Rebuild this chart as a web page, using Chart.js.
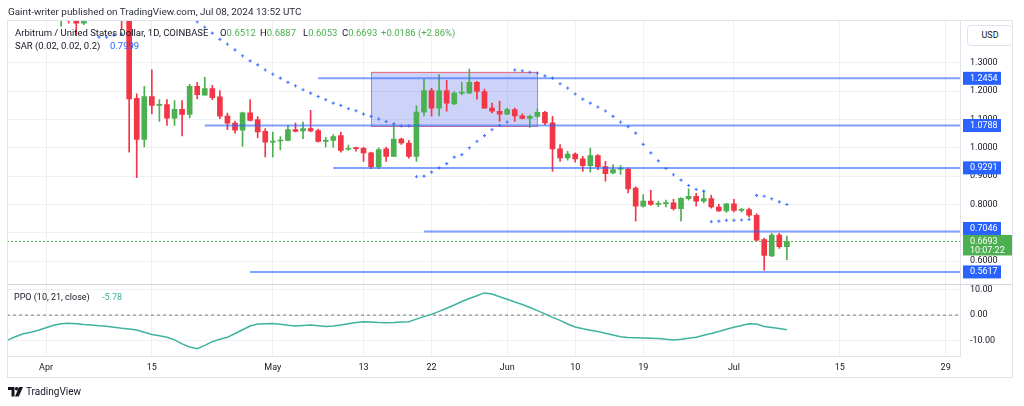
<!DOCTYPE html>
<html>
<head>
<meta charset="utf-8">
<script src="https://cdn.jsdelivr.net/npm/chart.js@4.4.1/dist/chart.umd.min.js"></script>
<style>
html, body { margin: 0; padding: 0; background: #fff; }
body { width: 1024px; height: 406px; position: relative; overflow: hidden; font-family: Roboto, "Liberation Sans", sans-serif; color: #131722; }
#chart { position: absolute; left: 0; top: 0; }
.t { position: absolute; font-size: 9.5px; line-height: 12px; white-space: nowrap; }
.g { color: #4caf50; }
.b { color: #2962ff; }
.teal { color: #3fb39f; }
#usd { position: absolute; left: 967px; top: 25px; width: 44px; height: 19px; border: 1px solid #e0e3eb; border-radius: 4px; font-size: 9px; line-height: 19px; text-align: center; background: #fff; }
#logo { position: absolute; left: 8px; top: 386px; display: flex; align-items: center; gap: 3px; font-size: 10px; color: #131722; }
</style>
</head>
<body>
<canvas id="chart" width="1024" height="406"></canvas>

<div class="t" style="left:8px;top:6px;color:#2a2e39;font-size:9.9px">Gaint-writer published on TradingView.com, Jul 08, 2024 13:52 UTC</div>
<div class="t" style="left:15px;top:27px">Arbitrum / United States Dollar, 1D, COINBASE</div>
<div class="t" style="left:220px;top:27px">O<span class="g">0.6512</span></div>
<div class="t" style="left:260px;top:27px">H<span class="g">0.6887</span></div>
<div class="t" style="left:303px;top:27px">L<span class="g">0.6053</span></div>
<div class="t" style="left:342px;top:27px">C<span class="g">0.6693</span></div>
<div class="t g" style="left:381px;top:27px">+0.0186 (+2.86%)</div>
<div class="t" style="left:15px;top:40px">SAR (0.02, 0.02, 0.2)</div>
<div class="t b" style="left:110px;top:40px">0.7999</div>
<div class="t" style="left:14px;top:291px;font-size:9px">PPO (10, 21, close)</div>
<div class="t teal" style="left:102px;top:291px;font-size:9px">-5.78</div>
<div id="usd">USD</div>
<div id="logo">
  <svg width="15" height="10" viewBox="0 0 15 10"><path d="M0 0h6.5v9.5H3.5V3H0z" fill="#131722"/><circle cx="8.6" cy="1.7" r="1.7" fill="#131722"/><path d="M11 0h4l-4.2 9.5H7z" fill="#131722"/></svg>
  <span>TradingView</span>
</div>

<script>
// day 0 = Apr 1, first candle is Mar 27
const firstDay = -5;

const opens = [
  1.78, 1.74, 1.70, 1.66, 1.69, 1.67, 1.58, 1.50, 1.52, 1.49,
  1.44, 1.48, 1.56, 1.55, 1.50, 1.50, 1.46, 1.175, 1.030, 1.181,
  1.150, 1.153, 1.105, 1.136, 1.118, 1.217, 1.186, 1.209, 1.180, 1.112,
  1.087, 1.062, 1.124, 1.100, 1.058, 1.020, 1.024, 1.026, 1.064, 1.060,
  1.068, 1.061, 1.023, 1.026, 1.043, 0.995, 0.999, 0.998, 0.982, 0.933,
  0.996, 0.970, 1.031, 1.017, 0.970, 1.126, 1.202, 1.140, 1.202, 1.155,
  1.193, 1.193, 1.231, 1.199, 1.140, 1.129, 1.119, 1.135, 1.113, 1.104,
  1.111, 1.125, 1.088, 0.996, 0.964, 0.978, 0.961, 0.937, 0.973, 0.934,
  0.911, 0.925, 0.925, 0.858, 0.794, 0.812, 0.800, 0.803, 0.806, 0.785,
  0.820, 0.829, 0.812, 0.821, 0.791, 0.777, 0.802, 0.779, 0.782, 0.762,
  0.676, 0.618, 0.692, 0.6512
];
const highs = [
  1.82, 1.78, 1.74, 1.72, 1.74, 1.70, 1.60, 1.56, 1.58, 1.52,
  1.50, 1.58, 1.62, 1.58, 1.55, 1.53, 1.47, 1.191, 1.217, 1.275,
  1.170, 1.170, 1.167, 1.167, 1.224, 1.230, 1.249, 1.221, 1.202, 1.123,
  1.094, 1.126, 1.170, 1.110, 1.068, 1.056, 1.040, 1.079, 1.087, 1.091,
  1.132, 1.066, 1.037, 1.047, 1.056, 1.010, 1.003, 1.003, 0.985, 1.000,
  1.003, 1.083, 1.034, 1.026, 1.149, 1.243, 1.210, 1.259, 1.238, 1.199,
  1.231, 1.278, 1.235, 1.207, 1.158, 1.165, 1.140, 1.140, 1.120, 1.116,
  1.137, 1.129, 1.111, 1.011, 0.988, 0.982, 0.970, 0.9995, 0.976, 0.952,
  0.941, 0.937, 0.929, 0.862, 0.835, 0.850, 0.812, 0.815, 0.818, 0.824,
  0.855, 0.839, 0.848, 0.833, 0.800, 0.804, 0.818, 0.786, 0.787, 0.768,
  0.680, 0.698, 0.698, 0.6887
];
const lows = [
  1.70, 1.66, 1.62, 1.62, 1.64, 1.55, 1.46, 1.43, 1.44, 1.40,
  1.435, 1.47, 1.52, 1.48, 1.455, 1.42, 0.985, 0.895, 1.003, 1.120,
  1.093, 1.079, 1.079, 1.042, 1.106, 1.173, 1.186, 1.170, 1.103, 1.064,
  1.052, 1.005, 1.095, 1.035, 0.968, 0.968, 0.993, 1.024, 1.056, 1.032,
  1.056, 1.020, 1.003, 1.001, 0.985, 0.991, 0.988, 0.952, 0.926, 0.926,
  0.952, 0.970, 1.012, 0.963, 0.952, 1.113, 1.113, 1.113, 1.129, 1.152,
  1.188, 1.193, 1.172, 1.140, 1.123, 1.093, 1.117, 1.093, 1.102, 1.072,
  1.107, 1.082, 0.917, 0.952, 0.956, 0.949, 0.917, 0.914, 0.923, 0.882,
  0.908, 0.906, 0.841, 0.741, 0.790, 0.797, 0.792, 0.791, 0.780, 0.741,
  0.815, 0.794, 0.805, 0.787, 0.775, 0.772, 0.774, 0.773, 0.756, 0.671,
  0.568, 0.616, 0.645, 0.6053
];
const closes = [
  1.74, 1.70, 1.66, 1.69, 1.67, 1.58, 1.50, 1.52, 1.49, 1.44,
  1.48, 1.56, 1.55, 1.50, 1.47, 1.46, 1.173, 1.030, 1.181, 1.150,
  1.153, 1.105, 1.136, 1.118, 1.217, 1.188, 1.209, 1.177, 1.112, 1.087,
  1.062, 1.124, 1.097, 1.056, 1.020, 1.024, 1.026, 1.064, 1.058, 1.068,
  1.060, 1.023, 1.026, 1.040, 0.991, 0.998, 0.997, 0.982, 0.933, 0.994,
  0.970, 1.031, 1.017, 0.970, 1.126, 1.202, 1.140, 1.202, 1.158, 1.193,
  1.196, 1.231, 1.199, 1.140, 1.129, 1.119, 1.135, 1.113, 1.104, 1.111,
  1.125, 1.088, 0.996, 0.964, 0.978, 0.961, 0.937, 0.973, 0.933, 0.909,
  0.923, 0.926, 0.855, 0.794, 0.812, 0.800, 0.803, 0.806, 0.785, 0.822,
  0.829, 0.812, 0.821, 0.791, 0.777, 0.802, 0.779, 0.781, 0.762, 0.674,
  0.620, 0.692, 0.6512, 0.6693
];
// parabolic SAR, null where the dot is off the chart
const sar = [
  null, null, null, null, null, null, null, null, null, null,
  null, null, 1.391, 1.391, 1.398, 1.402, null, null, null, null,
  null, null, null, null, null, 1.445, 1.426, 1.405, 1.383, 1.366,
  1.346, 1.325, 1.307, 1.293, 1.275, 1.260, 1.246, 1.231, 1.219, 1.205,
  1.193, 1.181, 1.170, 1.158, 1.150, 1.138, 1.131, 1.119, 1.111, 1.102,
  1.093, 1.085, 1.077, 1.077, 0.898, 0.900, 0.914, 0.929, 0.944, 0.967,
  0.976, 1.000, 1.023, 1.043, 1.064, 1.079, 1.091, 1.275, 1.272, 1.267,
  1.264, 1.254, 1.246, 1.226, 1.211, 1.190, 1.172, 1.158, 1.144, 1.130,
  1.111, 1.091, 1.075, 1.052, 1.012, 0.982, 0.954, 0.927, 0.905, 0.886,
  0.867, 0.853, 0.847, 0.739, 0.741, 0.744, 0.744, 0.745, 0.747, 0.832,
  0.829, 0.820, 0.809, 0.7999
];
const ppo = [
  -9.8, -8.5, -7.4, -6.8, -6.0, -5.0, -4.0, -3.4, -3.2, -3.4,
  -3.7, -3.9, -4.2, -4.4, -4.8, -5.2, -5.5, -5.9, -6.8, -7.7,
  -8.2, -8.8, -9.8, -11.4, -12.6, -13.3, -12.0, -10.5, -9.6, -8.8,
  -7.3, -5.8, -4.3, -3.5, -3.4, -3.3, -3.6, -4.0, -4.3, -4.1,
  -3.9, -4.2, -4.5, -4.3, -3.9, -3.4, -2.9, -2.6, -2.7, -2.9,
  -3.0, -2.9, -2.7, -2.6, -1.6, -0.6, 0.3, 1.5, 2.7, 4.0,
  5.4, 6.6, 7.7, 8.8, 8.4, 7.3, 6.3, 5.2, 4.2, 3.0,
  1.8, 0.5, -0.9, -2.1, -3.5, -4.7, -5.4, -6.0, -6.5, -7.2,
  -7.9, -8.6, -8.9, -9.0, -9.1, -9.2, -9.3, -9.6, -9.9, -9.6,
  -9.2, -8.8, -8.0, -7.3, -6.5, -5.6, -4.8, -4.1, -3.4, -3.5,
  -4.5, -4.9, -5.3, -5.78
];

const tickDays = [0, 14, 30, 42, 51, 61, 70, 79, 91, 105, 119];
const tickLabels = ['Apr', '15', 'May', '13', '22', 'Jun', '10', '19', 'Jul', '15', '29'];
const priceTicks = [0.6, 0.7, 0.8, 0.9, 1.0, 1.1, 1.2, 1.3];
const ppoTicks = [-10, 0, 10];

// horizontal levels drawn on the chart and the day each starts
const levels = [1.2454, 1.0788, 0.9291, 0.7046, 0.5617];
const levelFrom = [36, 21, 38, 50, 27];
// rectangle: days and prices
const boxDays = [43, 65];
const boxPrices = [1.0788, 1.269];
const lastPrice = 0.6693;
const countdown = '10:07:22';

const xMin = -5.16, xMax = 120.9;
const upColor = '#4caf50', downColor = '#f23645', levelColor = '#2962ff';

const candleDays = opens.map((_, i) => firstDay + i);
const candleColors = closes.map((c, i) => c >= opens[i] ? upColor : downColor);

Chart.defaults.font.family = 'Roboto';
Chart.defaults.font.size = 9;
Chart.defaults.color = '#131722';

const tvDecor = {
    id: 'tvDecor',
    beforeDatasetsDraw(chart) {
        const { ctx, scales: { x, y } } = chart;
        const l = x.getPixelForValue(boxDays[0]), r = x.getPixelForValue(boxDays[1]);
        const t = y.getPixelForValue(boxPrices[1]), b = y.getPixelForValue(boxPrices[0]);
        ctx.save();
        ctx.fillStyle = 'rgba(72, 92, 230, 0.27)';
        ctx.fillRect(l, t, r - l, b - t);
        ctx.strokeStyle = '#f0707d';
        ctx.lineWidth = 1;
        ctx.strokeRect(Math.round(l) + 0.5, Math.round(t) + 0.5, Math.round(r - l), Math.round(b - t));
        ctx.restore();
    },
    afterDraw(chart) {
        const { ctx, chartArea, scales: { y } } = chart;
        ctx.save();
        // pane separator and frame
        ctx.strokeStyle = '#d1d4dc';
        ctx.lineWidth = 1;
        const sy = Math.round(y.bottom) + 0.5;
        ctx.beginPath(); ctx.moveTo(chartArea.left, sy); ctx.lineTo(1013, sy); ctx.stroke();
        ctx.strokeStyle = '#e0e3eb';
        ctx.strokeRect(7.5, 20.5, 1005, 357);

        const ax = chartArea.right + 3;
        const tx = chartArea.right + 10;
        ctx.font = '9px Roboto';
        ctx.textBaseline = 'middle';
        ctx.textAlign = 'left';

        const py = y.getPixelForValue(lastPrice);
        const gTop = py - 6.5, gH = 20.5;
        ctx.fillStyle = upColor;
        ctx.fillRect(ax, gTop, 49, gH);
        ctx.fillStyle = '#fff';
        ctx.fillText(lastPrice.toFixed(4), tx, py);
        ctx.fillText(countdown, tx, py + 9.5);

        levels.forEach(v => {
            const cy = y.getPixelForValue(v);
            let top = cy - 6.5;
            if (top < gTop + gH && top + 13 > gTop) top = gTop - 13;
            ctx.fillStyle = levelColor;
            ctx.fillRect(ax, top, 38, 13);
            ctx.fillStyle = '#fff';
            ctx.fillText(v.toFixed(4), tx, top + 6.5);
        });
        ctx.restore();
    }
};

const levelSets = levels.map((v, i) => ({
    type: 'line',
    data: [{ x: levelFrom[i], y: v }, { x: xMax, y: v }],
    borderColor: 'rgba(41, 98, 255, 0.6)',
    borderWidth: 2,
    pointRadius: 0,
    order: 0
}));

new Chart(document.getElementById('chart'), {
    type: 'bar',
    data: {
        datasets: [
            {
                data: candleDays.map((d, i) => ({ x: d, y: [opens[i], closes[i]] })),
                backgroundColor: candleColors,
                barThickness: 5,
                minBarLength: 1,
                grouped: false,
                order: 1
            },
            {
                data: candleDays.map((d, i) => ({ x: d, y: [lows[i], highs[i]] })),
                backgroundColor: candleColors,
                barThickness: 1,
                grouped: false,
                order: 2
            },
            {
                type: 'line',
                data: [{ x: xMin, y: lastPrice }, { x: xMax, y: lastPrice }],
                borderColor: '#4caf50',
                borderWidth: 1,
                borderDash: [2, 2],
                pointRadius: 0,
                order: 3
            },
            ...levelSets,
            {
                type: 'line',
                data: candleDays.map((d, i) => ({ x: d, y: sar[i] })),
                showLine: false,
                pointStyle: 'cross',
                pointRadius: 1.6,
                borderWidth: 1.1,
                borderColor: 'rgba(41, 98, 255, 0.85)',
                backgroundColor: 'rgba(41, 98, 255, 0.85)',
                order: 0
            },
            {
                type: 'line',
                yAxisID: 'y2',
                data: [{ x: xMin, y: 0 }, { x: xMax, y: 0 }],
                borderColor: '#787b86',
                borderWidth: 1,
                borderDash: [3, 3],
                pointRadius: 0,
                order: 1
            },
            {
                type: 'line',
                yAxisID: 'y2',
                data: candleDays.map((d, i) => ({ x: d, y: ppo[i] })),
                borderColor: '#3fb39f',
                borderWidth: 1.5,
                pointRadius: 0,
                tension: 0,
                order: 0
            }
        ]
    },
    options: {
        responsive: false,
        animation: false,
        devicePixelRatio: 1,
        layout: { padding: { left: 7, top: 20, right: 0, bottom: 28 } },
        plugins: { legend: { display: false }, tooltip: { enabled: false } },
        scales: {
            x: {
                type: 'linear',
                min: xMin,
                max: xMax,
                offset: false,
                grid: { color: '#eef0f4', drawTicks: false, offset: false },
                border: { color: '#e0e3eb' },
                afterBuildTicks: s => { s.ticks = tickDays.map(v => ({ value: v })); },
                afterFit: s => { s.height = 22; },
                ticks: { callback: (v, i) => tickLabels[i], maxRotation: 0, autoSkip: false, padding: 6, color: '#131722' }
            },
            y: {
                type: 'linear',
                position: 'right',
                stack: 'panes',
                stackWeight: 265,
                min: 0.5183,
                max: 1.4514,
                beginAtZero: false,
                grid: { color: '#eef0f4', drawTicks: false },
                border: { color: '#e0e3eb' },
                afterBuildTicks: s => { s.ticks = priceTicks.map(v => ({ value: v })); },
                afterFit: s => { s.width = 64; },
                ticks: { callback: v => v.toFixed(4), padding: 10, color: '#131722' }
            },
            y2: {
                type: 'linear',
                position: 'right',
                stack: 'panes',
                stackWeight: 72,
                min: -16.2,
                max: 12.25,
                beginAtZero: false,
                grid: { color: '#eef0f4', drawTicks: false },
                border: { color: '#e0e3eb' },
                afterBuildTicks: s => { s.ticks = ppoTicks.map(v => ({ value: v })); },
                afterFit: s => { s.width = 64; },
                ticks: { callback: v => v.toFixed(2), padding: 10, color: '#131722' }
            }
        }
    },
    plugins: [tvDecor]
});
</script>
</body>
</html>
